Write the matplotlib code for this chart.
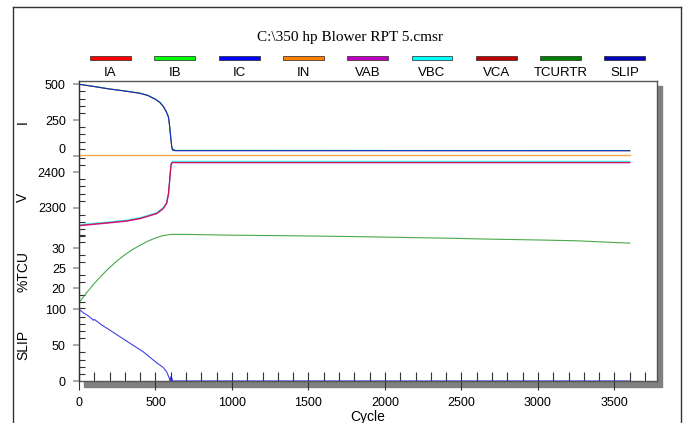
import matplotlib
matplotlib.use('Agg')
import matplotlib.pyplot as plt
from matplotlib.ticker import AutoMinorLocator, MultipleLocator
from matplotlib.patches import Rectangle
from matplotlib.lines import Line2D
from matplotlib.transforms import ScaledTranslation

plt.rcParams['font.family'] = ['Liberation Sans', 'DejaVu Sans']

# ---- data ----
title = 'C:\\350 hp Blower RPT 5.cmsr'
names = ['IA', 'IB', 'IC', 'IN', 'VAB', 'VBC', 'VCA', 'TCURTR', 'SLIP']
colors = ['#ff0000', '#00ff00', '#0000ff', '#ff8000', '#c000c0', '#00ffff', '#c00000', '#008000', '#0000c0']

cycle_i = [0, 100, 200, 300, 400, 450, 500, 530, 552, 570, 584, 590, 595, 600, 606, 612, 618, 625, 3600]
ia = [500, 484, 467, 453, 437, 422, 395, 372, 344, 310, 274, 230, 181, 125, 65, 40, 46, 38, 37]
ib = [501, 485, 468, 454, 438, 423, 396, 373, 345, 311, 275, 231, 182, 126, 66, 41, 47, 39, 38]
ic = [500, 484, 467, 453, 437, 422, 395, 372, 344, 310, 274, 230, 181, 125, 65, 40, 45, 37, 37]

cycle_in = [0, 3600]
i_n = [4, 4]

cycle_v = [0, 100, 200, 312, 400, 508, 550, 573, 585, 591, 597, 602, 610, 3600]
vab = [2249, 2253, 2257, 2262, 2269, 2283, 2297, 2312, 2339, 2368, 2399, 2422, 2427, 2427]
vbc = [2252, 2256, 2260, 2265, 2272, 2286, 2300, 2315, 2342, 2371, 2402, 2425, 2431, 2431]
vca = [2250, 2254, 2258, 2263, 2270, 2284, 2298, 2313, 2340, 2369, 2400, 2423, 2428, 2428]

cycle_tcu = [0, 50, 100, 150, 200, 250, 300, 350, 400, 450, 500, 550, 600, 700, 1000, 1400,
             1800, 2100, 2400, 2700, 3000, 3250, 3600]
tcurtr = [16.4, 18.9, 21.2, 23.3, 25.2, 26.9, 28.4, 29.7, 30.8, 31.8, 32.6, 33.2, 33.5, 33.5,
          33.3, 33.15, 32.95, 32.75, 32.55, 32.3, 32.1, 31.9, 31.3]

cycle_slip = [0, 28, 60, 83, 94, 100, 150, 203, 312, 420, 508, 550, 573, 590, 595, 600, 603,
              607, 612, 3600]
slip = [100, 95.4, 91, 87, 84.7, 86, 78, 70.8, 55.6, 40.7, 25.4, 19, 12.9, 4, 0, 6, 0, 4, 0, 0]

W, H = 690, 423
fig = plt.figure(figsize=(W / 100, H / 100), dpi=100)


def box(x0, y0, x1, y1):
    # pixel box (origin top-left) -> figure fraction rect
    return [x0 / W, 1 - y1 / H, (x1 - x0) / W, (y1 - y0) / H]


L, R, T, B = 79, 657.3, 80.7, 381

# outer border
kw = dict(color='#333333', lw=1.0, transform=fig.transFigure)
fig.add_artist(Line2D([12.7 / W, 12.7 / W], [0, 1 - 7.3 / H], **kw))
fig.add_artist(Line2D([12.7 / W, 681 / W], [1 - 7.3 / H, 1 - 7.3 / H], **kw))
fig.add_artist(Line2D([681 / W, 681 / W], [0, 1 - 7.3 / H], **kw))

# drop shadow
fig.add_artist(Rectangle(box(L + 5, T + 5.3, R + 5.2, B + 5.7)[:2], (R - L) / W, (B - T) / H,
                         transform=fig.transFigure, color='#808080', zorder=-1))

# title + legend
fig.text(350 / W, 1 - 37 / H, title, family='Liberation Serif', fontsize=11,
         ha='center', va='center')
for k, (nm, c) in enumerate(zip(names, colors)):
    x0 = 90 + 64.3 * k
    fig.add_artist(Rectangle((x0 / W, 1 - 60.5 / H), 41 / W, 4.5 / H, transform=fig.transFigure,
                             facecolor=c, edgecolor='#222222', lw=0.5))
    fig.text((x0 + 20.5) / W, 1 - 73.5 / H, nm, fontsize=9.5, ha='center', va='center')

# frame axes holding the x axis
ax = fig.add_axes(box(L, T, R, B))
ax.set_facecolor('white')
ax.set_xlim(0, 3780)
ax.set_ylim(0, 1)
ax.set_yticks([])
for s in ax.spines.values():
    s.set_color('#555555')
    s.set_linewidth(1.0)
ax.xaxis.set_major_locator(MultipleLocator(500))
ax.xaxis.set_minor_locator(MultipleLocator(100))
ax.tick_params(axis='x', which='major', direction='inout', length=13, width=0.8,
               color='#333333', labelsize=9, pad=5)
ax.tick_params(axis='x', which='minor', direction='in', length=6.5, width=0.8, color='#333333')
ax.set_xlabel('Cycle', fontsize=10, labelpad=1)


def panel(y0, y1, lo, hi, ticks, nminor):
    p = fig.add_axes(box(L, y0, R, y1), sharex=ax)
    p.patch.set_visible(False)
    for k, s in p.spines.items():
        s.set_visible(k == 'left')
    p.spines['left'].set_color('#333333')
    p.set_ylim(lo, hi)
    p.set_yticks(ticks)
    p.yaxis.set_minor_locator(AutoMinorLocator(nminor))
    p.tick_params(axis='x', which='both', bottom=False, labelbottom=False)
    p.tick_params(axis='y', which='major', direction='out', length=4.5, width=1.2,
                  color='#999999', labelsize=9, pad=5)
    p.tick_params(axis='y', which='minor', direction='in', length=4.3, width=0.8,
                  color='#333333')
    return p


# I
p_i = panel(T, 156, 0, 525, [0, 250, 500], 5)
for y, c in zip([ia, ib, ic], colors[:3]):
    p_i.plot(cycle_i, y, color=c, lw=0.8, alpha=0.8)
p_i.plot(cycle_in, i_n, color=colors[3], lw=1.0, alpha=0.7, clip_on=False)
lbl0 = p_i.get_yticklabels()[0]
lbl0.set_transform(lbl0.get_transform() + ScaledTranslation(0, 0.077, fig.dpi_scale_trans))

# V
p_v = panel(156, 238, 2214.4, 2446, [2300, 2400], 5)
p_v.plot(cycle_v, vbc, color=colors[5], lw=0.9, alpha=0.8)
p_v.plot(cycle_v, vab, color=colors[4], lw=0.9, alpha=0.8)
p_v.plot(cycle_v, vca, color='#e00020', lw=0.8, alpha=0.8)

# %TCU
p_t = panel(230, 309, 14.8, 34.6, [20, 25, 30], 3)
p_t.plot(cycle_tcu, tcurtr, color='#2a9a2a', lw=0.8, alpha=0.85)

# SLIP
p_s = panel(309, B, 0, 100.5, [0, 50, 100], 5)
p_s.plot(cycle_slip, slip, color='#2020e0', lw=0.8, alpha=0.85)

# axis names
for txt, yy in [('I', 122), ('V', 197), ('%TCU', 271), ('SLIP', 345)]:
    fig.text(23 / W, 1 - yy / H, txt, rotation=90, fontsize=10, ha='center', va='center')

fig.savefig('out.png', dpi=100)
